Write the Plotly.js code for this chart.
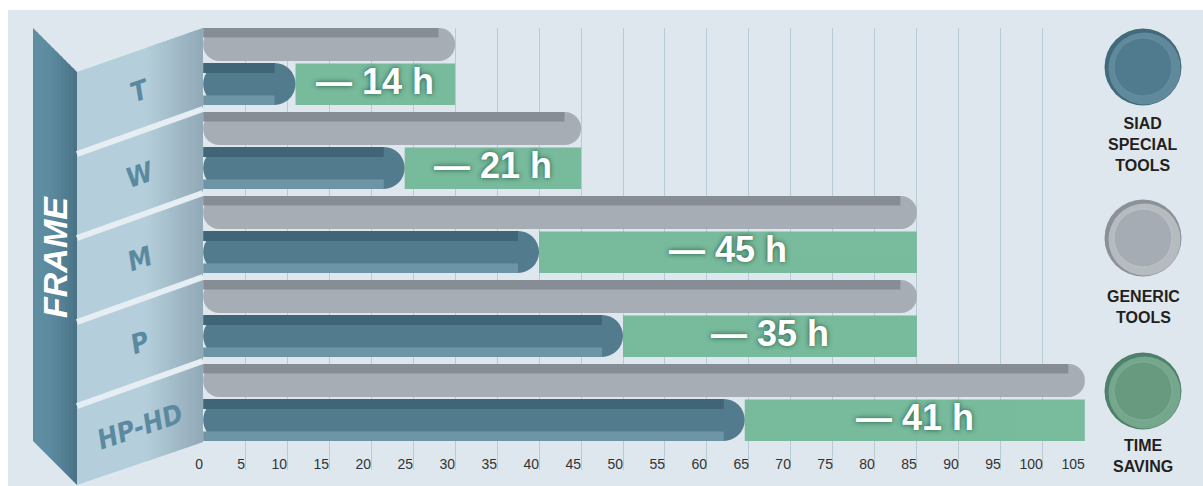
<!DOCTYPE html>
<html><head><meta charset="utf-8">
<script src="https://cdn.plot.ly/plotly-3.0.1.min.js"></script>
<style>html,body{margin:0;padding:0;background:#fff}#chart{width:1203px;height:486px}</style>
</head><body><div id="chart"></div>
<script>
// ---- data ----
const frames = ['T', 'W', 'M', 'P', 'HP-HD'];
const siadTools = [11, 24, 40, 50, 64.5];
const genericTools = [30, 45, 85, 85, 105];
const savingLabels = ['— 14 h', '— 21 h', '— 45 h', '— 35 h', '— 41 h'];
const legendNames = ['SIAD<br>SPECIAL<br>TOOLS', 'GENERIC<br>TOOLS', 'TIME<br>SAVING'];

// ---- geometry helpers (pixel -> paper) ----
const W = 1203, H = 486;
const ML = 203, MR = 118, MT = 28, MB = 16;
const PW = W - ML - MR, PH = H - MT - MB;
const U = 84; // px per category band
const px = x => (x - ML) / PW;
const py = y => (H - MB - y) / PH;
const pxPerUnitX = PW / 105;

const capG = 16.5 / pxPerUnitX, capB = 21 / pxPerUnitX;

const common = {type: 'bar', orientation: 'h', y: frames, hoverinfo: 'skip'};
const traces = [
  Object.assign({}, common, {x: genericTools, base: 0, offset: -38.5 / U, width: 33 / U,
    marker: {color: '#a7adb4', cornerradius: '50%', line: {width: 0}}}),
  Object.assign({}, common, {x: genericTools.map(v => v - capG), base: 0, offset: -38.5 / U, width: 9.5 / U,
    marker: {color: '#868d95', line: {width: 0}}}),
  Object.assign({}, common, {x: genericTools.map((v, i) => v - siadTools[i]), base: siadTools, offset: -3 / U, width: 41.5 / U,
    marker: {color: '#75b99a', line: {width: 0}}, opacity: 0.97}),
  Object.assign({}, common, {x: siadTools, base: 0, offset: -3.5 / U, width: 42 / U,
    marker: {color: '#527b8d', cornerradius: '50%', line: {width: 0}}}),
  Object.assign({}, common, {x: siadTools.map(v => v - capB), base: 0, offset: -3.5 / U, width: 10 / U,
    marker: {color: '#3f6577', line: {width: 0}}}),
  Object.assign({}, common, {x: siadTools.map(v => v - capB), base: 0, offset: 29 / U, width: 9.5 / U,
    marker: {color: '#6e95a6', line: {width: 0}}})
];

// ---- decorative shapes ----
const shapes = [];
function poly(pts, color, layer) {
  const d = pts.map((p, i) => (i ? 'L' : 'M') + px(p[0]) + ',' + py(p[1])).join(' ') + ' Z';
  shapes.push({type: 'path', xref: 'paper', yref: 'paper', path: d, fillcolor: color,
    line: {width: 0}, layer: layer || 'below'});
}
function mix(a, b, t) {
  const pa = [1, 3, 5].map(i => parseInt(a.substr(i, 2), 16));
  const pb = [1, 3, 5].map(i => parseInt(b.substr(i, 2), 16));
  return 'rgb(' + pa.map((v, i) => Math.round(v + (pb[i] - v) * t)).join(',') + ')';
}
// background
shapes.push({type: 'rect', xref: 'paper', yref: 'paper', x0: px(8), x1: px(W + 2), y0: py(H + 2), y1: py(10),
  fillcolor: '#dfe7ee', line: {width: 0}, layer: 'below'});
// back (FRAME) panel
const bTop = x => 28 + (x - 33), bBot = x => 441 + (x - 33);
for (let i = 0; i < 11; i++) {
  const xa = 33 + i * 4, xb = Math.min(77, xa + 4.5);
  poly([[xa, bTop(xa)], [xb, bTop(xb)], [xb, bBot(xb)], [xa, bBot(xa)]],
    mix('#5f8ea3', '#4a7386', Math.pow(i / 10, 1.8)));
}
// front panel with gradient
const fTop = x => 72 - (x - 77) * 44 / 126, fBot = x => 485 - (x - 77) * 43 / 126;
poly([[77, fTop(77)], [203, fTop(203)], [203, fBot(203)], [77, fBot(77)]], '#b4cedb');
for (let i = 0; i < 14; i++) {
  const xa = 147 + i * 4, xb = Math.min(203, xa + 4.5);
  poly([[xa, fTop(xa)], [xb, fTop(xb)], [xb, fBot(xb)], [xa, fBot(xa)]],
    mix('#b2ccd8', '#93aab8', i / 13));
}
// separators
for (let k = 1; k < frames.length; k++) {
  shapes.push({type: 'line', xref: 'paper', yref: 'paper', x0: px(77), y0: py(72 + U * k - 2),
    x1: px(203), y1: py(28 + U * k - 3), line: {color: '#e6eef3', width: 6}, layer: 'below'});
}
// legend circles
const legendCols = [['#416a7c', '#507b8e', '#6d97a9'], ['#8b9198', '#a6acb3', '#c9cdd1'], ['#4f806a', '#689a80', '#86b89c']];
const legendY = [67, 238, 391];
legendY.forEach((cy, i) => {
  const cx = 1143, r = 38.5, ri = 29;
  shapes.push({type: 'circle', xref: 'paper', yref: 'paper', x0: px(cx - r), x1: px(cx + r), y0: py(cy + r), y1: py(cy - r),
    fillcolor: legendCols[i][0], line: {width: 0}, layer: 'above'});
  shapes.push({type: 'circle', xref: 'paper', yref: 'paper', x0: px(cx - r + 4), x1: px(cx + r - 1), y0: py(cy + r - 1), y1: py(cy - r + 4),
    fillcolor: legendCols[i][2], line: {width: 0}, layer: 'above', opacity: 0.7});
  shapes.push({type: 'circle', xref: 'paper', yref: 'paper', x0: px(cx - ri), x1: px(cx + ri), y0: py(cy + ri), y1: py(cy - ri),
    fillcolor: legendCols[i][1], line: {width: 0.6, color: legendCols[i][2]}, layer: 'above'});
});

// ---- annotations ----
const annotations = [];
const narrow = 'Liberation Sans Narrow, DejaVu Sans Condensed, Arial Narrow, sans-serif';
const anc = {xanchor: 'center', yanchor: 'middle', showarrow: false};
frames.forEach((f, i) => {
  annotations.push(Object.assign({xref: 'paper', yref: 'y', x: px(140), y: f, yshift: -24.5, text: f,
    textangle: -19, font: {family: narrow, size: 27, weight: 700, style: 'italic', color: '#5b8aa0'}}, anc));
  annotations.push(Object.assign({xref: 'x', yref: 'y', x: (siadTools[i] + genericTools[i]) / 2, y: f, yshift: -15.5,
    text: savingLabels[i],
    font: {family: 'Liberation Sans, Arial, sans-serif', size: 36, weight: 700, color: '#ffffff',
      shadow: '0px 0px 5px rgba(20,70,50,0.85)'}}, anc));
});
annotations.push(Object.assign({xref: 'paper', yref: 'paper', x: px(55), y: py(257), text: 'FRAME',
  textangle: -90, font: {family: 'Liberation Sans, Arial, sans-serif', size: 34, weight: 700, style: 'italic', color: '#ffffff'}}, anc));
const legendTextY = [145, 307, 456];
legendNames.forEach((t, i) => {
  annotations.push(Object.assign({xref: 'paper', yref: 'paper', x: px(1143), y: py(legendTextY[i]), text: t,
    align: 'center', font: {family: 'Liberation Sans, Arial, sans-serif', size: 16, weight: 700, color: '#231f20'}}, anc));
});

const layout = {
  width: W, height: H,
  margin: {l: ML, r: MR, t: MT, b: MB, pad: 0},
  paper_bgcolor: '#ffffff', plot_bgcolor: 'rgba(0,0,0,0)',
  barmode: 'overlay', showlegend: false,
  xaxis: {range: [-0.02, 105.02], tick0: 0, dtick: 5, showgrid: true, gridcolor: '#b7cbd6', gridwidth: 1,
    zeroline: false, showline: false, ticks: '', ticklabelposition: 'outside left', ticklabelstandoff: -16,
    tickfont: {family: 'Liberation Sans, Arial, sans-serif', size: 14, color: '#333333'}, fixedrange: true},
  yaxis: {type: 'category', range: [-0.458 + PH / U, -0.458],
    showgrid: false, zeroline: false, showticklabels: false, ticks: '', fixedrange: true},
  shapes: shapes, annotations: annotations
};

Plotly.newPlot('chart', traces, layout, {staticPlot: true, displayModeBar: false});
</script>
</body></html>
